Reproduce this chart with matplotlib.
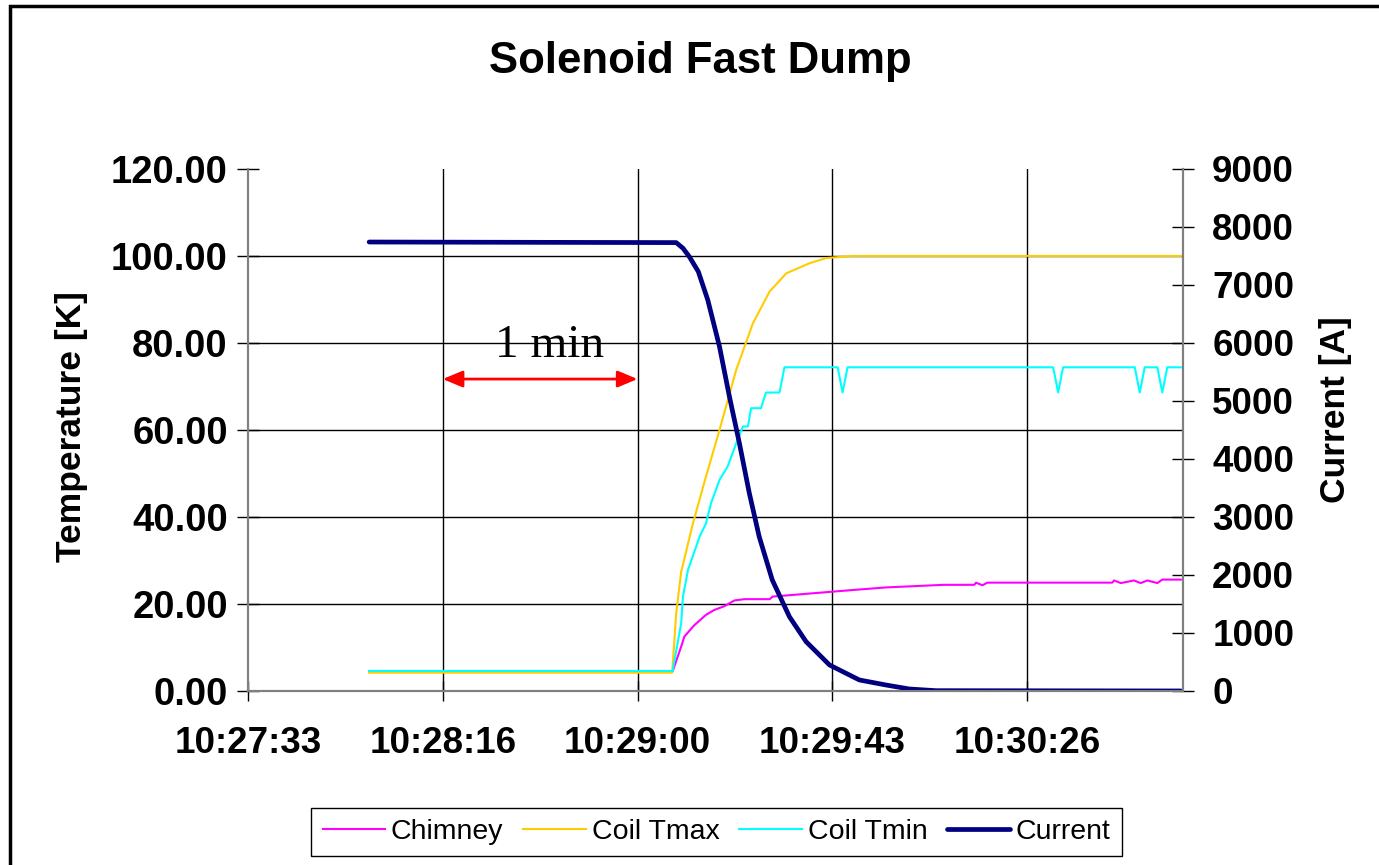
import matplotlib
matplotlib.use('Agg')
import matplotlib.pyplot as plt
from matplotlib.patches import Rectangle
from matplotlib.ticker import FuncFormatter

plt.rcParams['font.family'] = 'Liberation Sans'
plt.rcParams['font.weight'] = 'bold'

# time of day in seconds; data logged from 10:28:00
t_start = 10 * 3600 + 28 * 60
x_min = 37653.12          # 10:27:33 (0.4358 d)
x_max = 37860.5
x_step = 43.2             # 0.0005 d

# seconds after t_start
t_chim = [0, 67.3, 69.2, 69.9, 72.0, 74.7, 76.5, 78.8, 81.0, 83.2, 88.8, 89.5, 95.4, 101.3,
          107.2, 114.6, 127.5, 134.2, 134.6, 136.0, 137.1, 164.8, 165.2, 166.7, 169.6,
          171.1, 172.6, 174.8, 175.9, 180]
v_chim = [4.5, 4.5, 10.2, 12.5, 15.0, 17.5, 18.6, 19.5, 20.8, 21.1, 21.1, 21.7, 22.2, 22.7,
          23.2, 23.8, 24.4, 24.4, 24.9, 24.3, 24.9, 24.9, 25.4, 24.8, 25.4,
          24.8, 25.4, 24.8, 25.6, 25.6]

t_tmax = [0, 67.2, 68.1, 69.2, 71.8, 74.7, 77.7, 81.4, 85.1, 88.8, 92.5, 97.6, 101.3, 107.2, 180]
v_tmax = [4.2, 4.2, 17.9, 27.4, 38.5, 49.3, 60.0, 73.8, 84.5, 91.8, 96.0, 98.3, 99.5, 100.0, 100.0]

t_tmin = [0, 67.3, 69.2, 69.6, 70.7, 73.3, 74.7, 75.8, 77.7, 79.5, 81.4, 82.9, 84.0, 84.7,
          86.9, 88.0, 91.0, 92.1, 103.9, 105.0, 106.1, 151.7, 152.8, 153.9, 169.8, 170.9,
          172.0, 174.8, 175.9, 177.0, 180]
v_tmin = [4.6, 4.6, 15.6, 21.7, 27.8, 35.5, 38.5, 43.1, 48.5, 51.6, 56.9, 60.8, 60.8, 65.0,
          65.0, 68.6, 68.6, 74.4, 74.4, 68.6, 74.4, 74.4, 68.6, 74.4, 74.4, 68.6,
          74.4, 74.4, 68.6, 74.4, 74.4]

t_cur = [0, 68.1, 69.6, 71.0, 73.0, 75.1, 77.7, 79.9, 82.1, 84.3, 86.5, 89.4, 93.2, 96.9,
         102.1, 108.7, 114.6, 119.8, 125.7, 180]
i_cur = [7740, 7730, 7633, 7488, 7230, 6741, 5936, 5074, 4276, 3414, 2661, 1914, 1281, 850,
         448, 190, 103, 34, 5, 0]


def clock(v, pos):
    s = int(round(v))
    return f'{s // 3600}:{s % 3600 // 60:02d}:{s % 60:02d}'


fig = plt.figure(figsize=(13.79, 8.65), dpi=100)
ax = fig.add_axes([0.1798, 0.2012, 0.6781, 0.6035])
ax2 = ax.twinx()

l1, = ax.plot([t_start + t for t in t_chim], v_chim, color='#FF00FF', lw=1.5, label='Chimney')
l2, = ax.plot([t_start + t for t in t_tmax], v_tmax, color='#FFCC00', lw=1.5, label='Coil Tmax')
l3, = ax.plot([t_start + t for t in t_tmin], v_tmin, color='#00FFFF', lw=1.5, label='Coil Tmin')
l4, = ax2.plot([t_start + t for t in t_cur], i_cur, color='#000080', lw=3.4,
               solid_capstyle='round', label='Current')

ax.set_xlim(x_min, x_max)
ax.set_ylim(0, 120)
ax2.set_ylim(0, 9000)

xt = [x_min + k * x_step for k in range(5)]
ax.set_xticks(xt)
ax.xaxis.set_major_formatter(FuncFormatter(clock))
ax.set_yticks(range(0, 121, 20))
ax.yaxis.set_major_formatter(FuncFormatter(lambda v, p: f'{v:.2f}'))
ax2.set_yticks(range(0, 9001, 1000))

# grid without the top line
for y in range(20, 101, 20):
    ax.axhline(y, color='black', lw=1, zorder=0.5)
for x in xt[1:]:
    ax.axvline(x, color='black', lw=1, zorder=0.5)

for a in (ax, ax2):
    a.spines['top'].set_visible(False)
    for s in ('left', 'right', 'bottom'):
        a.spines[s].set_color('#808080')
        a.spines[s].set_linewidth(1.5)

ax.tick_params(axis='y', direction='inout', length=16, width=1, labelsize=27.5, pad=6.5)
ax.tick_params(axis='x', direction='inout', length=14, width=1, labelsize=26.5, pad=18)
ax2.tick_params(axis='y', direction='inout', length=16, width=1, labelsize=26.5, pad=13)

ax.set_ylabel('Temperature [K]', fontsize=25.5, fontweight='bold')
ax.yaxis.set_label_coords(-0.171, 0.506)
ax2.set_ylabel('Current [A]', fontsize=25.5, fontweight='bold')
ax2.yaxis.set_label_coords(1.145, 0.538)

fig.text(0.508, 1 - 62 / 865, 'Solenoid Fast Dump', ha='center', va='center',
         fontsize=31.5, fontweight='bold')

# one-minute marker
ax.annotate('', xy=(xt[1], 71.7), xytext=(xt[2], 71.7),
            arrowprops=dict(arrowstyle='<|-|>,head_length=0.6,head_width=0.25',
                            color='red', lw=2, shrinkA=0, shrinkB=0, mutation_scale=20))
ax.text(x_min + 1.55 * x_step, 76.8, '1 min', ha='center', va='baseline',
        fontsize=34, fontweight='normal', family='Liberation Serif')

leg = fig.legend([l1, l2, l3, l4], [l.get_label() for l in (l1, l2, l3, l4)],
                 loc='center', bbox_to_anchor=(0.5196, 0.0382), ncol=4,
                 frameon=True, fancybox=False, edgecolor='black', framealpha=1,
                 prop={'family': 'Liberation Sans', 'weight': 'normal', 'size': 20.5},
                 handlelength=2.2, handletextpad=0.2, columnspacing=0.7, borderpad=0.4)
leg.get_frame().set_linewidth(1)

fig.add_artist(Rectangle((10 / 1379, -0.05), 1.2, 1.05 - 6.5 / 865, transform=fig.transFigure,
                         fill=False, lw=2.5, ec='black'))

fig.savefig('out.png', dpi=100)
